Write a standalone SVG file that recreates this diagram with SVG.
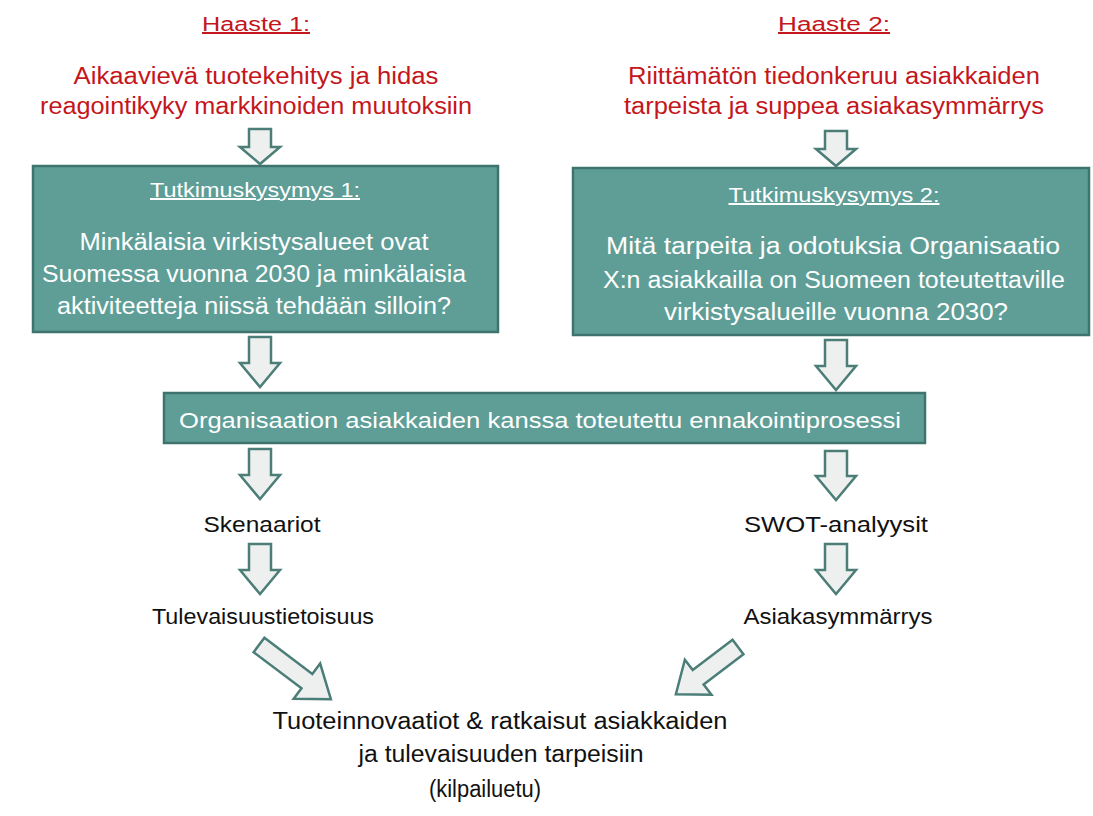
<svg xmlns="http://www.w3.org/2000/svg" width="1093" height="816" viewBox="0 0 1093 816">
<style>
.red{font-family:"Liberation Sans",Arial,sans-serif;fill:#C4161C;text-anchor:middle}
.wt{font-family:"Liberation Sans",Arial,sans-serif;fill:#FFFFFF;text-anchor:middle}
.bk{font-family:"Liberation Sans",Arial,sans-serif;fill:#111111;text-anchor:middle}
.box{fill:#5E9E97;stroke:#3F736D;stroke-width:2.5}
.arr{fill:#EEF0F0;stroke:#4C7E78;stroke-width:2.5;stroke-linejoin:miter}
.ul{text-decoration:underline}
</style>
<rect width="1093" height="816" fill="#FFFFFF"/>
<g id="haaste1">
<text class="red ul" x="256" y="31" font-size="20" textLength="108" lengthAdjust="spacingAndGlyphs">Haaste 1:</text>
<text class="red" x="256" y="84" font-size="23" textLength="365" lengthAdjust="spacingAndGlyphs">Aikaavievä tuotekehitys ja hidas</text>
<text class="red" x="256" y="114" font-size="23" textLength="432" lengthAdjust="spacingAndGlyphs">reagointikyky markkinoiden muutoksiin</text>
</g>
<g id="haaste2">
<text class="red ul" x="834" y="31" font-size="20" textLength="112" lengthAdjust="spacingAndGlyphs">Haaste 2:</text>
<text class="red" x="834" y="84" font-size="23" textLength="412" lengthAdjust="spacingAndGlyphs">Riittämätön tiedonkeruu asiakkaiden</text>
<text class="red" x="834" y="114" font-size="23" textLength="420" lengthAdjust="spacingAndGlyphs">tarpeista ja suppea asiakasymmärrys</text>
</g>
<g id="tk1">
<rect class="box" x="33" y="166" width="465" height="166"/>
<text class="wt ul" x="255" y="197" font-size="20" textLength="210" lengthAdjust="spacingAndGlyphs">Tutkimuskysymys 1:</text>
<text class="wt" x="254" y="250" font-size="23" textLength="349" lengthAdjust="spacingAndGlyphs">Minkälaisia virkistysalueet ovat</text>
<text class="wt" x="254" y="282" font-size="23" textLength="424" lengthAdjust="spacingAndGlyphs">Suomessa vuonna 2030 ja minkälaisia</text>
<text class="wt" x="254" y="314" font-size="23" textLength="394" lengthAdjust="spacingAndGlyphs">aktiviteetteja niissä tehdään silloin?</text>
</g>
<g id="tk2">
<rect class="box" x="573" y="168" width="516" height="167"/>
<text class="wt ul" x="834" y="202" font-size="20" textLength="211" lengthAdjust="spacingAndGlyphs">Tutkimuskysymys 2:</text>
<text class="wt" x="833" y="254" font-size="23" textLength="454" lengthAdjust="spacingAndGlyphs">Mitä tarpeita ja odotuksia Organisaatio</text>
<text class="wt" x="834" y="288" font-size="23" textLength="462" lengthAdjust="spacingAndGlyphs">X:n asiakkailla on Suomeen toteutettaville</text>
<text class="wt" x="836" y="320" font-size="23" textLength="344" lengthAdjust="spacingAndGlyphs">virkistysalueille vuonna 2030?</text>
</g>
<g id="prosessi">
<rect class="box" x="164" y="393" width="761" height="50"/>
<text class="wt" x="540" y="428" font-size="22" textLength="722" lengthAdjust="spacingAndGlyphs">Organisaation asiakkaiden kanssa toteutettu ennakointiprosessi</text>
</g>
<g id="skenaariot"><text class="bk" x="262" y="532" font-size="22" textLength="117" lengthAdjust="spacingAndGlyphs">Skenaariot</text></g>
<g id="swot"><text class="bk" x="836" y="532" font-size="22" textLength="184" lengthAdjust="spacingAndGlyphs">SWOT-analyysit</text></g>
<g id="tulevaisuustietoisuus"><text class="bk" x="263" y="624" font-size="22" textLength="222" lengthAdjust="spacingAndGlyphs">Tulevaisuustietoisuus</text></g>
<g id="asiakasymmarrys"><text class="bk" x="838" y="624" font-size="22" textLength="189" lengthAdjust="spacingAndGlyphs">Asiakasymmärrys</text></g>
<g id="tulos">
<text class="bk" x="500" y="729" font-size="23" textLength="455" lengthAdjust="spacingAndGlyphs">Tuoteinnovaatiot &amp; ratkaisut asiakkaiden</text>
<text class="bk" x="501" y="762" font-size="23" textLength="285" lengthAdjust="spacingAndGlyphs">ja tulevaisuuden tarpeisiin</text>
<text class="bk" x="485" y="797" font-size="23" textLength="112" lengthAdjust="spacingAndGlyphs">(kilpailuetu)</text>
</g>
<g id="connectors">
<path class="arr" d="M249,129H271V147H280L260,164L240,147H249Z"/>
<path class="arr" d="M825,131H847V149H856L836,166L816,149H825Z"/>
<path class="arr" d="M249,337H271V363H280L260,387L240,363H249Z"/>
<path class="arr" d="M825,340H847V366H856L836,390L816,366H825Z"/>
<path class="arr" d="M249,449H271V475H280L260,499L240,475H249Z"/>
<path class="arr" d="M825,451H847V476H856L836,500L816,476H825Z"/>
<path class="arr" d="M249,544H271V570H280L260,594L240,570H249Z"/>
<path class="arr" d="M825,544H847V570H856L836,594L816,570H825Z"/>
<path class="arr" transform="translate(259,645) rotate(37)" d="M0,-9H60V-22L90,0L60,22V9H0Z"/>
<path class="arr" transform="translate(738,647) rotate(142.8)" d="M0,-9H50V-22L78,0L50,22V9H0Z"/>
</g>
</svg>
